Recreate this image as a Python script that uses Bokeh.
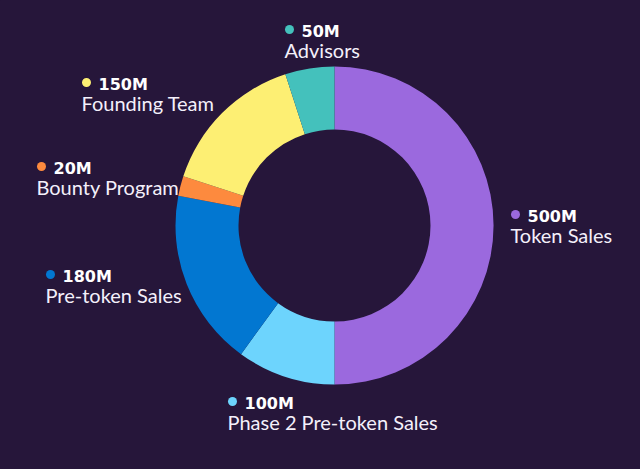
import math
from bokeh.plotting import figure
from bokeh.models import Range1d, ColumnDataSource
from bokeh.core.properties import value
from bokeh.embed import file_html
from bokeh.resources import INLINE

# ---- data ----
categories = ["Token Sales", "Phase 2 Pre-token Sales", "Pre-token Sales",
              "Bounty Program", "Founding Team", "Advisors"]
amounts = [500, 100, 180, 20, 150, 50]          # millions
value_labels = ["500M", "100M", "180M", "20M", "150M", "50M"]
colors = ["#9b69de", "#6dd4fd", "#0277d1", "#fd8a3e", "#fdef73", "#44c1bc"]

# ---- layout (screen pixel anchors for the annotation dots) ----
anchor_x = [515, 232, 50, 41, 86, 289]
anchor_y = [214, 401, 274, 166, 82, 29]

BG = "#26163a"
W, H = 624, 453
def sy(y):  # screen y -> data y
    return 469 - y

total = sum(amounts)
starts, ends = [], []
cum = 0.0
for a in amounts:
    starts.append(math.pi / 2 - 2 * math.pi * cum / total)
    cum += a
    ends.append(math.pi / 2 - 2 * math.pi * cum / total)

p = figure(width=W, height=H, output_backend="svg", toolbar_location=None,
           x_range=Range1d(0, W), y_range=Range1d(469 - H, 469),
           min_border=0, background_fill_color=BG, border_fill_color=BG)
p.axis.visible = False
p.grid.visible = False
p.outline_line_color = None

src = ColumnDataSource(dict(start=starts, end=ends, color=colors, cat=categories))
p.annular_wedge(x=334, y=sy(225), inner_radius=96, outer_radius=159,
                start_angle="start", end_angle="end", direction="clock",
                fill_color="color", line_color=None, source=src)

dots = ColumnDataSource(dict(x=anchor_x, y=[sy(v) for v in anchor_y], color=colors))
p.scatter(x="x", y="y", size=9, fill_color="color", line_color=None, source=dots)

vals = ColumnDataSource(dict(x=[v + 12 for v in anchor_x],
                             y=[sy(v + 2) for v in anchor_y], t=value_labels))
p.text(x="x", y="y", text="t", source=vals, text_color="white",
       text_font=value("DejaVu Sans"), text_font_style="bold",
       text_font_size="16px", text_baseline="alphabetic", text_align="left")

labs = ColumnDataSource(dict(x=[v - 5 for v in anchor_x],
                             y=[sy(v + 20) for v in anchor_y], t=categories))
p.text(x="x", y="y", text="t", source=labs, text_color="#f4f0fa",
       text_font=value("Lato"), text_font_size="20px",
       text_baseline="alphabetic", text_align="left")

html = file_html(p, INLINE)
html = html.replace("<head>",
                    "<head><style>html,body{background:%s;margin:0;overflow:hidden;}</style>" % BG, 1)
open("out.html", "w").write(html)
